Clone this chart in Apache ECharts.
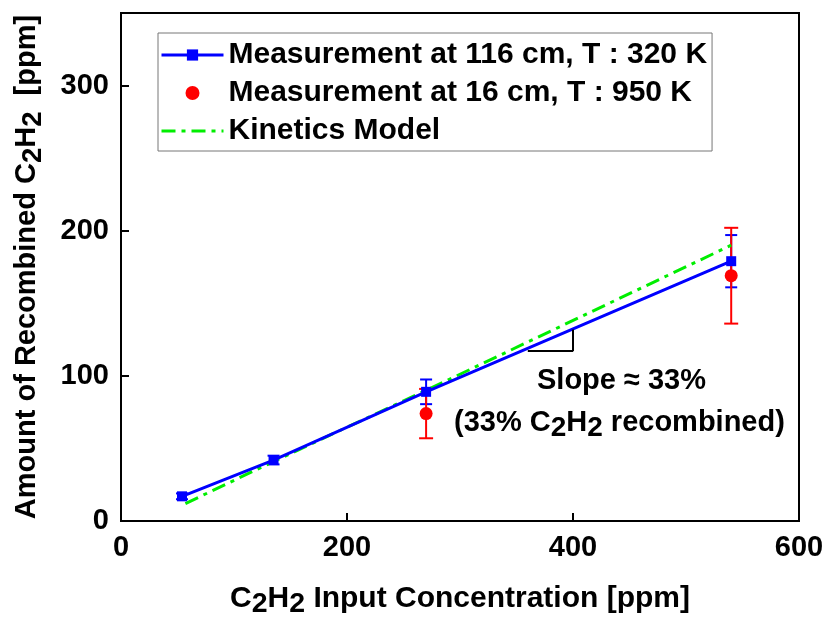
<!DOCTYPE html>
<html>
<head>
<meta charset="utf-8">
<script src="https://cdn.jsdelivr.net/npm/echarts@6/dist/echarts.min.js"></script>
<style>
html,body{margin:0;padding:0;background:#fff;}
#chart{width:825px;height:617px;}
</style>
</head>
<body>
<div id="chart"></div>
<script>
// ---- data ----
var blueX = [54, 135, 270, 540];
var blueY = [17, 42, 89, 179];
var blueErr = [2, 3, 8.5, 18];
var redX = [270, 540];
var redY = [74, 169];
var redErr = [17, 33];
var modelX = [57, 135, 270, 540];
var modelY = [12, 41, 90, 190];
var xTicks = [0, 200, 400, 600];
var yTicks = [0, 100, 200, 300];
var slopeTriangle = [[360, 117], [400, 117], [400, 132]];
var seriesNames = ['Measurement at 116 cm, T : 320 K', 'Measurement at 16 cm, T : 950 K', 'Kinetics Model'];

var FONT = '"Liberation Sans", Arial, sans-serif';
function pairs(xs, ys) { return xs.map(function (x, i) { return [x, ys[i]]; }); }
function errData(xs, ys, es) { return xs.map(function (x, i) { return [x, ys[i] - es[i], ys[i] + es[i]]; }); }
function errRender(color, capHalf, lw) {
  return function (params, api) {
    var lo = api.coord([api.value(0), api.value(1)]);
    var hi = api.coord([api.value(0), api.value(2)]);
    var st = { stroke: color, lineWidth: lw };
    return { type: 'group', children: [
      { type: 'line', shape: { x1: lo[0], y1: lo[1], x2: hi[0], y2: hi[1] }, style: st },
      { type: 'line', shape: { x1: lo[0] - capHalf, y1: lo[1], x2: lo[0] + capHalf, y2: lo[1] }, style: st },
      { type: 'line', shape: { x1: hi[0] - capHalf, y1: hi[1], x2: hi[0] + capHalf, y2: hi[1] }, style: st }
    ]};
  };
}
function richSub(size) {
  return {
    b: { fontFamily: FONT, fontWeight: 'bold', fontSize: size, color: '#000' },
    s: { fontFamily: FONT, fontWeight: 'bold', fontSize: size * 0.95, color: '#000', padding: [12, 0, 0, 0] }
  };
}
var GREEN = '#00ee00';
var DASH = [14, 6, 4, 6];

var chart = echarts.init(document.getElementById('chart'));
var option = {
  animation: false,
  backgroundColor: '#fff',
  grid: { left: 121, right: 26, top: 13, bottom: 96, show: true, borderColor: '#000', borderWidth: 2,
          containLabel: false, outerBoundsMode: 'none' },
  legend: {
    left: 158, top: 33, orient: 'vertical',
    data: [
      { name: seriesNames[0], lineStyle: { width: 3 } },
      { name: seriesNames[1] },
      { name: seriesNames[2], itemStyle: { opacity: 0 }, lineStyle: { width: 3, type: DASH, color: GREEN } }
    ],
    itemWidth: 62, itemHeight: 14, itemGap: 8,
    padding: [7, 5, 5, 2],
    borderColor: '#777', borderWidth: 1,
    textStyle: { fontFamily: FONT, fontWeight: 'bold', fontSize: 30, color: '#000' }
  },
  xAxis: {
    type: 'value', min: 0, max: 600, interval: 200,
    axisLine: { show: true, lineStyle: { color: '#000', width: 2 } },
    axisTick: { show: true, inside: true, length: 8, lineStyle: { color: '#000', width: 2 } },
    splitLine: { show: false },
    axisLabel: { fontFamily: FONT, fontWeight: 'bold', fontSize: 29, color: '#000', margin: 12,
      formatter: function (v) { return xTicks.indexOf(v) >= 0 ? String(v) : ''; } },
    name: '{b|C}{s|2}{b|H}{s|2}{b| Input Concentration [ppm]}',
    nameLocation: 'middle', nameGap: 57,
    nameTextStyle: { rich: richSub(30) }
  },
  yAxis: {
    type: 'value', min: 0, max: 350, interval: 100,
    axisLine: { show: true, lineStyle: { color: '#000', width: 2 } },
    axisTick: { show: true, inside: true, length: 8, lineStyle: { color: '#000', width: 2 } },
    splitLine: { show: false },
    axisLabel: { fontFamily: FONT, fontWeight: 'bold', fontSize: 29, color: '#000', margin: 12,
      formatter: function (v) { return yTicks.indexOf(v) >= 0 ? String(v) : ''; } },
    name: '{b|Amount of Recombined C}{s|2}{b|H}{s|2}{b|  [ppm]}',
    nameLocation: 'middle', nameGap: 74, nameRotate: 90,
    nameTextStyle: { rich: richSub(29) }
  },
  series: [
    {
      name: seriesNames[0], type: 'line', data: pairs(blueX, blueY), z: 4,
      symbol: 'rect', symbolSize: 10,
      lineStyle: { color: '#0000ff', width: 3 },
      itemStyle: { color: '#0000ff' },
      markLine: {
        silent: true, symbol: 'none', label: { show: false },
        lineStyle: { color: '#000', width: 2, type: 'solid' },
        data: [
          [{ coord: slopeTriangle[0] }, { coord: slopeTriangle[1] }],
          [{ coord: slopeTriangle[1] }, { coord: slopeTriangle[2] }]
        ]
      }
    },
    {
      name: seriesNames[1], type: 'scatter', data: pairs(redX, redY), z: 5,
      symbol: 'circle', symbolSize: 13,
      itemStyle: { color: '#ff0000', opacity: 1 }
    },
    {
      name: seriesNames[2], type: 'line', data: pairs(modelX, modelY), z: 3,
      showSymbol: false, symbol: 'none',
      lineStyle: { color: GREEN, width: 3, type: DASH },
      itemStyle: { color: GREEN }
    },
    {
      type: 'custom', data: errData(blueX, blueY, blueErr), z: 2,
      renderItem: errRender('#0000ff', 6, 2)
    },
    {
      type: 'custom', data: errData(redX, redY, redErr), z: 3,
      renderItem: errRender('#ff0000', 7, 2)
    }
  ],
  graphic: [
    { type: 'text', left: 537, top: 366, style: { text: 'Slope ≈ 33%', fontFamily: FONT, fontWeight: 'bold', fontSize: 29, fill: '#000' } },
    { type: 'text', left: 454, top: 408, style: {
      text: '{b|(33% C}{s|2}{b|H}{s|2}{b| recombined)}',
      rich: {
        b: { fontFamily: FONT, fontWeight: 'bold', fontSize: 29, fill: '#000' },
        s: { fontFamily: FONT, fontWeight: 'bold', fontSize: 28, fill: '#000', padding: [12, 0, 0, 0] }
      } } }
  ]
};
chart.setOption(option);
</script>
</body>
</html>
